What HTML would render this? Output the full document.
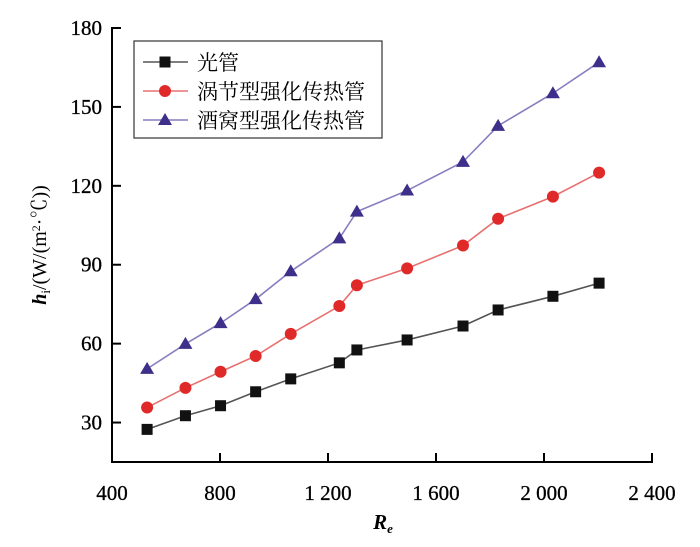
<!DOCTYPE html>
<html><head><meta charset="utf-8"><style>
html,body{margin:0;padding:0;background:#fff;width:700px;height:547px;overflow:hidden}
text{font-family:"Liberation Serif","Noto Serif CJK SC",serif}
</style></head><body>
<svg id="chart" width="700" height="547" xmlns="http://www.w3.org/2000/svg"></svg>
<script>
const xValues=[530,672,802,932,1062,1242,1307,1493,1700,1830,2033,2204];
const seriesPlain=[27.4,32.6,36.4,41.7,46.6,52.7,57.6,61.4,66.7,72.8,78,83];
const seriesVortex=[35.7,43.2,49.3,55.3,63.7,74.3,82.2,88.6,97.3,107.5,115.9,125];
const seriesWine=[50.4,59.9,67.8,76.9,87.5,100,110.2,118.2,129.1,142.8,155.2,167];
const xTicks=[400,800,1200,1600,2000,2400];
const xTickLabels=["400","800","1 200","1 600","2 000","2 400"];
const yTicks=[30,60,90,120,150,180];
const legendLabels=["光管","涡节型强化传热管","酒窝型强化传热管"];
const NS="http://www.w3.org/2000/svg";
const svg=document.getElementById('chart');
const X0=112,X1=652,Y0=462,Y1=28;
const xs=v=>X0+(v-400)/(2400-400)*(X1-X0);
const ys=v=>Y0-(v-15)/(180-15)*(Y0-Y1);
function mk(tag,attrs,parent){const e=document.createElementNS(NS,tag);for(const k in attrs)e.setAttribute(k,attrs[k]);(parent||svg).appendChild(e);return e;}
let e;
e=mk('line',{x1:X0,y1:Y0,x2:X1+1,y2:Y0,stroke:'#000','stroke-width':2});


e=mk('line',{x1:X0,y1:Y0+1,x2:X0,y2:Y1-1,stroke:'#000','stroke-width':2});


xTicks.forEach((t,i)=>{
 const x=xs(t);
 if(i>0){e=mk('line',{x1:x,y1:Y0,x2:x,y2:Y0-9,stroke:'#000','stroke-width':2});
 
 }
 e=mk('text',{x:x,y:Y0+38,'text-anchor':'middle','font-size':21,stroke:'#000','stroke-width':0.3});
 e.textContent=xTickLabels[i];
 
 
});
yTicks.forEach(t=>{
 const y=ys(t);
 e=mk('line',{x1:X0,y1:y,x2:X0+9,y2:y,stroke:'#000','stroke-width':2});
 
 
 e=mk('text',{x:X0-10,y:y+7,'text-anchor':'end','font-size':21,stroke:'#000','stroke-width':0.3});
 e.textContent=t;
 
 
});
e=mk('text',{x:383,y:529,'text-anchor':'middle','font-size':21,'font-style':'italic','font-weight':'bold'});
e.innerHTML='R<tspan font-size="13" dy="4">e</tspan>';


e=mk('text',{x:0,y:0,'text-anchor':'middle','font-size':20,transform:'translate(46,245) rotate(-90)'});
e.innerHTML='<tspan font-style="italic" font-weight="bold">h</tspan><tspan font-size="13" dy="4">i</tspan><tspan dy="-4">/(W/(m</tspan><tspan font-size="12" dy="-6">2</tspan><tspan dy="6">·℃))</tspan>';


const series=[{d:seriesPlain,line:'#555',fill:'#111',m:'sq',name:'series-plain-tube'},
{d:seriesVortex,line:'#e87070',fill:'#e02a2a',m:'ci',name:'series-vortex-tube'},
{d:seriesWine,line:'#8a7cc0',fill:'#3d2f8a',m:'tr',name:'series-dimple-tube'}];
function marker(m,x,y,fill,g){
 if(m==='sq')return mk('rect',{x:x-5.5,y:y-5.5,width:11,height:11,fill:fill},g);
 if(m==='ci')return mk('circle',{cx:x,cy:y,r:6,fill:fill},g);
 return mk('polygon',{points:`${x},${y-7} ${x+7},${y+5} ${x-7},${y+5}`,fill:fill},g);
}
series.forEach(s=>{
 const g=mk('g',{});
 
 
 e=mk('polyline',{points:s.d.map((v,i)=>xs(xValues[i])+','+ys(v)).join(' '),fill:'none',stroke:s.line,'stroke-width':1.6},g);
 
 
 s.d.forEach((v,i)=>{
  e=marker(s.m,xs(xValues[i]),ys(v),s.fill,g);
  
  
 });
});
const lg=mk('g',{});


mk('rect',{x:134,y:41,width:248,height:97,fill:'#fff',stroke:'#333','stroke-width':1.2},lg);
series.forEach((s,i)=>{
 const y=62+i*29;
 const g=mk('g',{},lg);
 
 
 mk('line',{x1:143,y1:y,x2:188,y2:y,stroke:s.line,'stroke-width':1.6},g);
 marker(s.m,165,y,s.fill,g);
 e=mk('text',{x:197,y:y+8,'font-size':21,'font-family':'"Noto Sans CJK SC",sans-serif'},g);
 e.textContent=legendLabels[i];
 
 
});
</script>
</body></html>
